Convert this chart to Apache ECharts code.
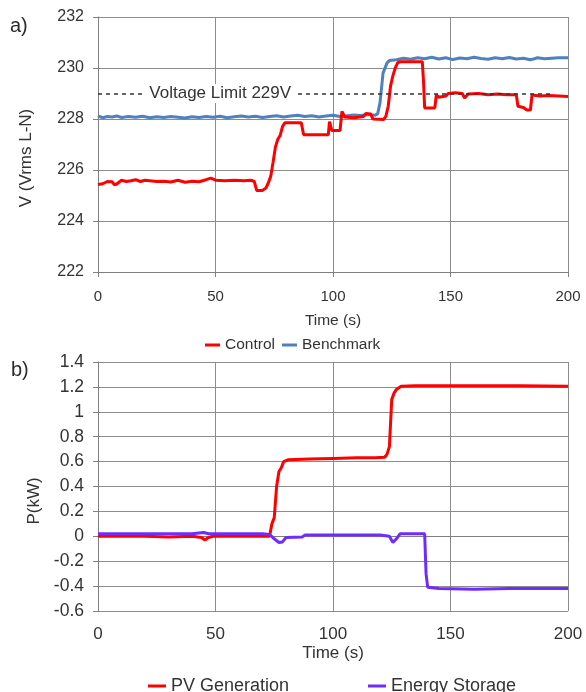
<!DOCTYPE html>
<html>
<head>
<meta charset="utf-8">
<script src="https://cdn.jsdelivr.net/npm/echarts@6/dist/echarts.min.js"></script>
<style>
  html, body { margin: 0; padding: 0; background: #fff; }
  #chart { width: 586px; height: 692px; }
</style>
</head>
<body>
<div id="chart"></div>
<script>
// panel a) voltage
var controlT = [0, 2, 4, 6, 7, 8, 10, 12, 14, 16, 18, 20, 22, 25, 28, 31, 34, 37, 40, 43, 46, 48, 50, 54, 58, 62, 65, 66.5, 67.5, 70, 71.5, 72.5, 73.5, 74.5, 75.5, 76.5, 77.5, 78.5, 79.5, 86.5, 87.5, 98, 98.5, 99.5, 103, 103.8, 105, 109, 113, 114, 116, 117, 121.5, 122.5, 123.5, 124.5, 125.5, 126.5, 127.5, 128.5, 138, 138.5, 139, 143.3, 144, 145, 148, 149, 152, 155, 156, 157.5, 162, 166, 170, 174, 178, 178.7, 181, 182.5, 184, 184.7, 188, 192, 196, 200]
var controlV = [225.43, 225.46, 225.55, 225.54, 225.42, 225.45, 225.6, 225.55, 225.58, 225.62, 225.55, 225.6, 225.58, 225.55, 225.56, 225.53, 225.6, 225.52, 225.56, 225.54, 225.62, 225.68, 225.6, 225.58, 225.6, 225.58, 225.6, 225.55, 225.2, 225.2, 225.3, 225.5, 225.75, 226.3, 226.9, 227.2, 227.35, 227.7, 227.85, 227.85, 227.38, 227.38, 227.9, 227.55, 227.55, 228.3, 228.08, 228.05, 228.1, 228.22, 228.2, 228.0, 227.98, 228.1, 228.5, 229.3, 229.7, 230.0, 230.2, 230.25, 230.25, 229.5, 228.43, 228.43, 228.95, 228.85, 228.9, 229.0, 229.03, 229.0, 228.82, 228.98, 229.0, 228.95, 228.98, 228.95, 228.95, 228.5, 228.45, 228.35, 228.35, 228.94, 228.9, 228.92, 228.9, 228.88]

var benchT = [0, 2, 4, 6, 8, 10, 13, 16, 19, 22, 25, 28, 31, 34, 37, 40, 43, 46, 49, 52, 55, 58, 61, 64, 67, 70, 73, 76, 79, 82, 85, 88, 91, 94, 97, 100, 103, 106, 109, 112, 115, 118, 119, 120, 121.3, 123, 124, 127, 130, 133, 136, 139, 142, 145, 148, 151, 154, 157, 160, 163, 166, 169, 172, 175, 178, 181, 184, 187, 190, 193, 196, 200]
var benchV = [228.12, 228.05, 228.1, 228.08, 228.12, 228.06, 228.1, 228.07, 228.11, 228.05, 228.09, 228.06, 228.1, 228.07, 228.04, 228.09, 228.06, 228.1, 228.07, 228.11, 228.05, 228.09, 228.12, 228.08, 228.11, 228.06, 228.1, 228.13, 228.08, 228.12, 228.15, 228.1, 228.13, 228.08, 228.12, 228.15, 228.1, 228.13, 228.16, 228.14, 228.18, 228.15, 228.2, 228.63, 229.8, 230.2, 230.29, 230.32, 230.38, 230.34, 230.4, 230.36, 230.42, 230.35, 230.4, 230.33, 230.39, 230.36, 230.42, 230.37, 230.34, 230.4, 230.36, 230.41, 230.35, 230.38, 230.32, 230.4, 230.36, 230.38, 230.4, 230.4]

var voltLimit = 229
var voltLimitEnd = 194
var voltLabelT = 52

// panel b) power
var pvT = [0, 10, 20, 30, 40, 44, 45.5, 47, 49, 60, 70, 73, 74, 75, 76, 77, 78, 79, 81, 90, 100, 110, 118, 122, 123, 124, 125, 126, 127, 129, 135, 150, 165, 180, 200]
var pvV = [0.0, 0.0, 0.0, -0.005, 0.0, -0.01, -0.03, -0.01, 0.0, 0.0, 0.0, 0.0, 0.1, 0.15, 0.4, 0.52, 0.55, 0.6, 0.615, 0.62, 0.625, 0.63, 0.63, 0.635, 0.66, 0.72, 1.1, 1.15, 1.18, 1.205, 1.21, 1.21, 1.21, 1.21, 1.205]

var storT = [0, 10, 20, 30, 40, 45, 47, 60, 70, 73, 75, 77, 78.5, 80, 87, 88, 100, 110, 120, 124, 125.5, 127, 128.5, 135, 139, 139.6, 140.3, 145, 160, 175, 190, 200]
var storV = [0.02, 0.02, 0.02, 0.02, 0.02, 0.03, 0.02, 0.02, 0.02, 0.015, -0.02, -0.05, -0.045, -0.01, -0.005, 0.01, 0.01, 0.01, 0.01, 0.0, -0.05, -0.02, 0.02, 0.02, 0.02, -0.3, -0.41, -0.42, -0.425, -0.42, -0.42, -0.42]

function zip(t, v) {
  return t.map(function(x, i) { return [x, v[i]] })
}

var font = 'Liberation Sans, Arial, sans-serif'
var txt = '#333'
var gridLine = { show: true, lineStyle: { color: '#8c8c8c', width: 1 } }

function xAx(idx, fs, nfs, gap, margin) {
  return {
    type: 'value', gridIndex: idx, min: 0, max: 200, interval: 50,
    name: 'Time (s)', nameLocation: 'middle', nameGap: gap,
    nameTextStyle: { color: txt, fontSize: nfs, fontFamily: font },
    axisLine: { lineStyle: { color: '#808080' } },
    axisTick: { show: true, length: 5, lineStyle: { color: '#808080' } },
    axisLabel: { color: txt, fontSize: fs, fontFamily: font, margin: margin },
    splitLine: gridLine
  }
}

var chart = echarts.init(document.getElementById('chart'))
chart.setOption({
  animation: false,
  textStyle: { fontFamily: font },
  grid: [
    { left: 98, right: 18, top: 17, height: 255 },
    { left: 98, right: 18, top: 362, height: 249 }
  ],
  legend: [
    { data: ['Control', 'Benchmark'], left: 200, top: 332, icon: 'rect', itemWidth: 15, itemHeight: 3, itemGap: 7,
      textStyle: { color: txt, fontSize: 15.5, fontFamily: font } },
    { data: ['PV Generation'], left: 143, top: 672, icon: 'rect', itemWidth: 18, itemHeight: 3,
      textStyle: { color: txt, fontSize: 18, fontFamily: font } },
    { data: ['Energy Storage'], left: 363, top: 672, icon: 'rect', itemWidth: 18, itemHeight: 3,
      textStyle: { color: txt, fontSize: 18, fontFamily: font } }
  ],
  xAxis: [xAx(0, 15, 15.5, 41, 17), xAx(1, 17, 17, 34, 15)],
  yAxis: [
    {
      type: 'value', gridIndex: 0, min: 222, max: 232, interval: 2,
      name: 'V (Vrms L-N)', nameLocation: 'middle', nameGap: 63,
      nameTextStyle: { color: txt, fontSize: 17, fontFamily: font, padding: [0, 27, 0, 0] },
      axisLine: { show: true, lineStyle: { color: '#808080' } },
      axisTick: { show: true, length: 5, lineStyle: { color: '#808080' } },
      axisLabel: { color: txt, fontSize: 16, fontFamily: font, margin: 14 },
      splitLine: gridLine
    },
    {
      type: 'value', gridIndex: 1, min: -0.6, max: 1.4, interval: 0.2,
      name: 'P(kW)', nameLocation: 'middle', nameGap: 54,
      nameTextStyle: { color: txt, fontSize: 17, fontFamily: font, padding: [0, 29, 0, 0] },
      axisLine: { show: true, lineStyle: { color: '#808080' } },
      axisTick: { show: true, length: 5, lineStyle: { color: '#808080' } },
      axisLabel: { color: txt, fontSize: 17.5, fontFamily: font, margin: 14,
        formatter: function(v) { return String(+v.toFixed(1)) } },
      splitLine: gridLine
    }
  ],
  graphic: [
    { type: 'text', left: 10, top: 16, style: { text: 'a)', fontSize: 20, fontFamily: font, fill: '#2b2b2b' } },
    { type: 'text', left: 11, top: 360, style: { text: 'b)', fontSize: 20, fontFamily: font, fill: '#2b2b2b' } }
  ],
  series: [
    {
      name: 'Benchmark', type: 'line', xAxisIndex: 0, yAxisIndex: 0,
      data: zip(benchT, benchV), showSymbol: false, symbol: 'none',
      lineStyle: { color: '#4f81bd', width: 3 }, itemStyle: { color: '#4f81bd' }
    },
    {
      name: 'Control', type: 'line', xAxisIndex: 0, yAxisIndex: 0,
      data: zip(controlT, controlV), showSymbol: false, symbol: 'none',
      lineStyle: { color: '#ff0000', width: 3 }, itemStyle: { color: '#ff0000' },
      markLine: {
        silent: true, symbol: 'none', label: { show: false },
        lineStyle: { color: '#333', type: [4, 4], width: 1.5 },
        data: [[{ coord: [0, voltLimit] }, { coord: [voltLimitEnd, voltLimit] }]]
      },
      markPoint: {
        silent: true, symbol: 'rect', symbolSize: 0,
        label: { show: true, position: 'inside', formatter: 'Voltage Limit 229V', color: txt,
          fontSize: 17, fontFamily: font, backgroundColor: '#fff', padding: [1, 4] },
        data: [{ coord: [voltLabelT, voltLimit] }]
      }
    },
    {
      name: 'PV Generation', type: 'line', xAxisIndex: 1, yAxisIndex: 1,
      data: zip(pvT, pvV), showSymbol: false, symbol: 'none',
      lineStyle: { color: '#ff0000', width: 3 }, itemStyle: { color: '#ff0000' }
    },
    {
      name: 'Energy Storage', type: 'line', xAxisIndex: 1, yAxisIndex: 1,
      data: zip(storT, storV), showSymbol: false, symbol: 'none',
      lineStyle: { color: '#6f2cff', width: 3 }, itemStyle: { color: '#6f2cff' }
    }
  ]
})
</script>
</body>
</html>
